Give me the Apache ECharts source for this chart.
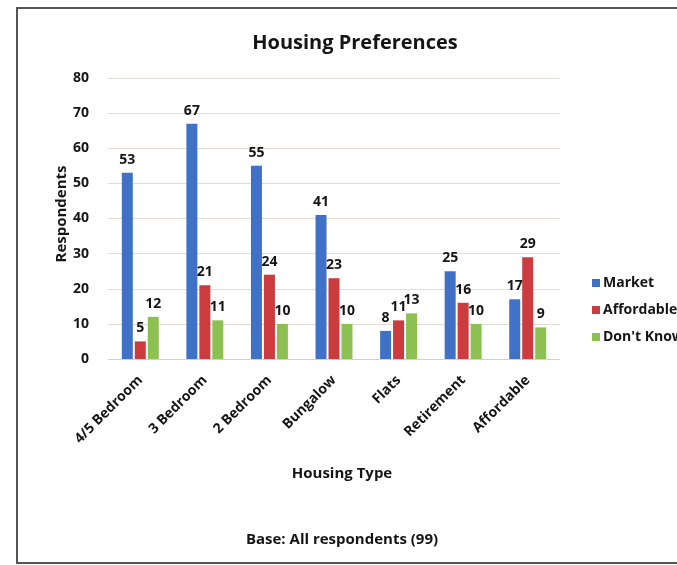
<!DOCTYPE html>
<html><head><meta charset="utf-8">
<script src="https://cdn.jsdelivr.net/npm/echarts@6/dist/echarts.min.js"></script>
<style>html,body{margin:0;padding:0;background:#fff}#c{width:677px;height:565px}</style>
</head><body><div id="c"></div>
<script>
const categories = ['4/5 Bedroom','3 Bedroom','2 Bedroom','Bungalow','Flats','Retirement','Affordable'];
const market = [53, 67, 55, 41, 8, 25, 17];
const affordable = [5, 21, 24, 23, 11, 16, 29];
const dontKnow = [12, 11, 10, 10, 13, 10, 9];
const yTicks = [0, 10, 20, 30, 40, 50, 60, 70, 80];

const font = '"Open Sans", "Liberation Sans", sans-serif';
const txt = '#151515';
const lbl = {show: true, position: 'top', distance: 6, fontFamily: font, fontWeight: 'bold', fontSize: 14, color: txt};

const chart = echarts.init(document.getElementById('c'));
chart.setOption({
  animation: false,
  backgroundColor: '#fff',
  title: {text: 'Housing Preferences', left: 350, top: 28, textAlign: 'center',
    textStyle: {fontFamily: font, fontWeight: 'bold', fontSize: 20, color: txt}},
  graphic: [
    {type: 'rect', shape: {x: 17, y: 8, width: 700, height: 555}, style: {fill: 'none', stroke: '#555', lineWidth: 2}},
    {type: 'text', style: {text: 'Base: All respondents (99)', x: 342, y: 540, textAlign: 'center', textVerticalAlign: 'middle', font: 'bold 15px ' + font, fill: txt}},
    {type: 'text', x: 62, y: 214, rotation: Math.PI / 2, style: {text: 'Respondents', x: 0, y: 0, textAlign: 'center', textVerticalAlign: 'middle', font: 'bold 15px ' + font, fill: txt}}
  ],
  legend: {orient: 'vertical', left: 587, top: 271, itemWidth: 8, itemHeight: 8, itemGap: 13,
    icon: 'rect', textStyle: {fontFamily: font, fontWeight: 'bold', fontSize: 14, color: txt, padding: [0,0,0,-2]}},
  grid: {left: 108, right: 117, top: 78, bottom: 206},
  xAxis: {type: 'category', data: categories,
    name: 'Housing Type', nameLocation: 'middle', nameGap: 107,
    nameTextStyle: {fontFamily: font, fontWeight: 'bold', fontSize: 15, color: txt, padding: [0,0,0,16]},
    axisLine: {lineStyle: {color: '#d8d0c8', width: 1}}, axisTick: {show: false},
    axisLabel: {rotate: 45, interval: 0, margin: 19, fontFamily: font, fontWeight: 'bold', fontSize: 14, color: txt}},
  yAxis: {type: 'value', min: 0, max: 80, interval: 10,
    axisLine: {show: false}, axisTick: {show: false},
    splitLine: {lineStyle: {color: '#e4dcd4', width: 1}},
    axisLabel: {margin: 19, fontFamily: font, fontWeight: 'bold', fontSize: 14, color: txt,
      formatter: v => yTicks.includes(v) ? String(v) : ''}},
  series: [
    {name: 'Market', type: 'bar', data: market, barWidth: 11, barGap: '18%', itemStyle: {color: '#3f72c6'}, label: lbl},
    {name: 'Affordable', type: 'bar', data: affordable, barWidth: 11, barGap: '18%', itemStyle: {color: '#cc3b3e'}, label: lbl},
    {name: "Don't Know", type: 'bar', data: dontKnow, barWidth: 11, barGap: '18%', itemStyle: {color: '#8cc152'}, label: lbl}
  ]
});
</script></body></html>
